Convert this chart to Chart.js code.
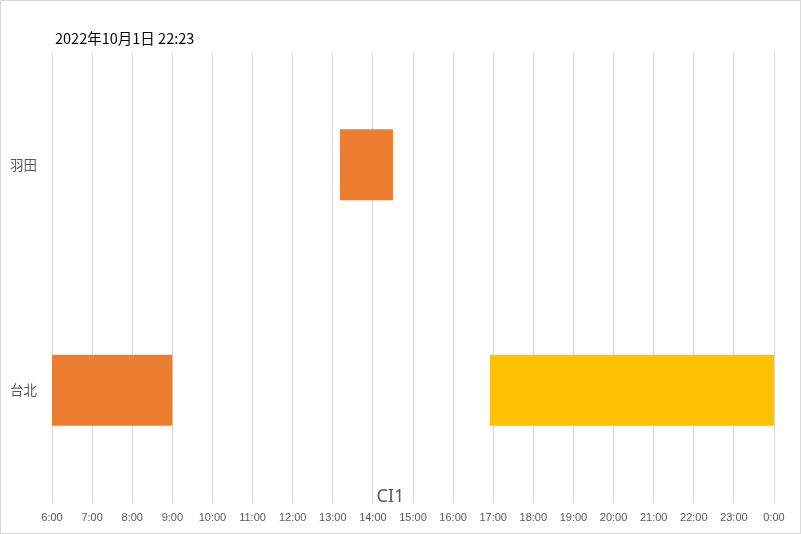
<!DOCTYPE html>
<html><head><meta charset="utf-8">
<script src="https://cdn.jsdelivr.net/npm/chart.js@4"></script>
<style>
html,body{margin:0;padding:0;background:#fff;}
#wrap{width:801px;height:534px;position:relative;}
canvas{display:block;}
</style></head>
<body><div id="wrap"><canvas id="c" width="801" height="534"></canvas></div>
<script>
const titleText = '2022年10月1日 22:23';
const axisTitle = 'CI1';
const categories = ['羽田', '台北'];
const orangeStart = [13.18, 6];
const orangeEnd = [14.5, 9];
const yellowStart = [null, 16.92];
const yellowEnd = [null, 24];
const hourMin = 6, hourMax = 24;

const pair = (s, e) => s.map((v, i) => v == null ? null : [v, e[i]]);

const deco = {
  id: 'deco',
  afterDraw(chart) {
    const ctx = chart.ctx, a = chart.chartArea;
    ctx.save();
    ctx.strokeStyle = '#d9d9d9'; ctx.lineWidth = 1;
    ctx.strokeRect(0.5, 0.5, chart.width - 1, chart.height - 1);
    ctx.fillStyle = '#000';
    ctx.font = '14.5px "Noto Sans CJK JP", sans-serif';
    ctx.textBaseline = 'middle'; ctx.textAlign = 'left';
    ctx.fillText(titleText, a.left + 3, 38);
    ctx.fillStyle = '#595959';
    ctx.font = '18px "Noto Sans", sans-serif';
    ctx.textAlign = 'center';
    ctx.fillText(axisTitle, chart.width / 2 - 10, a.bottom - 6);
    ctx.restore();
  }
};

new Chart(document.getElementById('c'), {
  type: 'bar',
  data: {
    labels: categories,
    datasets: [
      { data: pair(orangeStart, orangeEnd), backgroundColor: '#ED7D31', grouped: false },
      { data: pair(yellowStart, yellowEnd), backgroundColor: '#FFC000', grouped: false }
    ]
  },
  options: {
    indexAxis: 'y',
    responsive: false,
    animation: false,
    layout: { padding: { top: 52, right: 27, left: 0, bottom: 0 } },
    categoryPercentage: 1,
    barPercentage: 0.315,
    plugins: { legend: { display: false }, tooltip: { enabled: false }, title: { display: false } },
    scales: {
      x: {
        type: 'linear', min: hourMin, max: hourMax,
        grid: { color: '#d9d9d9', drawTicks: false },
        border: { display: false },
        ticks: {
          stepSize: 1, padding: 8, color: '#595959', maxRotation: 0, autoSkip: false,
          font: { family: '"Liberation Sans", sans-serif', size: 11 },
          callback: v => (v % 24) + ':00'
        },
        afterFit(s) { s.height = 31; }
      },
      y: {
        grid: { display: false, drawTicks: false },
        border: { display: false },
        ticks: { padding: 15, color: '#595959', font: { family: '"Noto Sans CJK JP", sans-serif', size: 13.5 } },
        afterFit(s) { s.width = 52; }
      }
    }
  },
  plugins: [deco]
});
</script></body></html>
